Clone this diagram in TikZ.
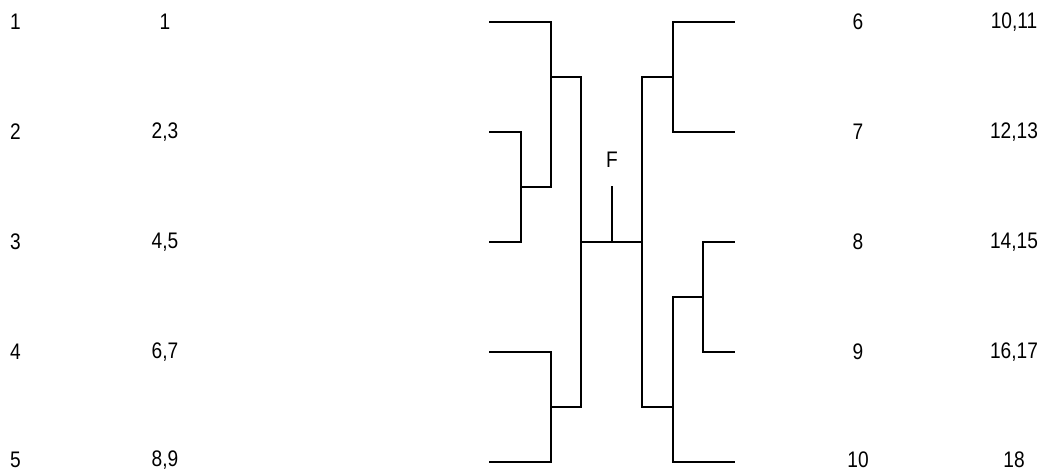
\documentclass[tikz,border=0pt]{standalone}
\usepackage{fontspec}
\setmainfont[FakeStretch=0.85]{Liberation Sans}
\begin{document}
\begin{tikzpicture}[x=1pt,y=-1pt,
  lbl/.style={font=\fontsize{22.5}{24}\selectfont, inner sep=0pt},
  br/.style={line width=1.5pt, line cap=rect}]
\useasboundingbox (0,0) rectangle (1045,472);
% labels
\foreach \a/\b/\y in {1/1/22, 2/{2,3}/132, 3/{4,5}/242, 4/{6,7}/352, 5/{8,9}/460} {
  \node[lbl, anchor=west] (a\a) at (10,\y) {\a};
  \node[lbl] (b\a) at (165,\y) {\b};
}
\foreach \a/\b/\y in {6/{10,11}/22, 7/{12,13}/132, 8/{14,15}/242, 9/{16,17}/352, 10/18/460} {
  \node[lbl] (c\a) at (858,\y) {\a};
  \node[lbl] (d\a) at (1014,\y) {\b};
}
\node[lbl] (F) at (612,160) {F};
% coordinates
\coordinate (l1) at (490,22);
\coordinate (l2) at (490,132);
\coordinate (l3) at (490,242);
\coordinate (l4) at (490,352);
\coordinate (l5) at (490,462);
\coordinate (r1) at (734,22);
\coordinate (r2) at (734,132);
\coordinate (r3) at (734,242);
\coordinate (r4) at (734,352);
\coordinate (r5) at (734,462);
\coordinate (j23) at (521,187);
\coordinate (j123) at (551,77);
\coordinate (j45) at (551,407);
\coordinate (jl) at (581,242);
\coordinate (jr) at (642,242);
\coordinate (fs) at (612,187);
\coordinate (fb) at (612,242);
% left tree
\draw[br] (l2) -| (j23) |- (l3);
\draw[br] (l1) -| (551,187) -- (j23);
\draw[br] (j123) -| (581,407) -- (j45);
\draw[br] (l4) -| (j45) |- (l5);
\draw[br] (jl) -- (jr);
\draw[br] (fs) -- (fb);
% right tree
\draw[br] (r1) -| (673,132) -- (r2);
\draw[br] (673,77) -| (642,407) -- (673,407);
\draw[br] (r3) -| (703,352) -- (r4);
\draw[br] (703,297) -| (673,462) -- (r5);
\end{tikzpicture}
\end{document}
